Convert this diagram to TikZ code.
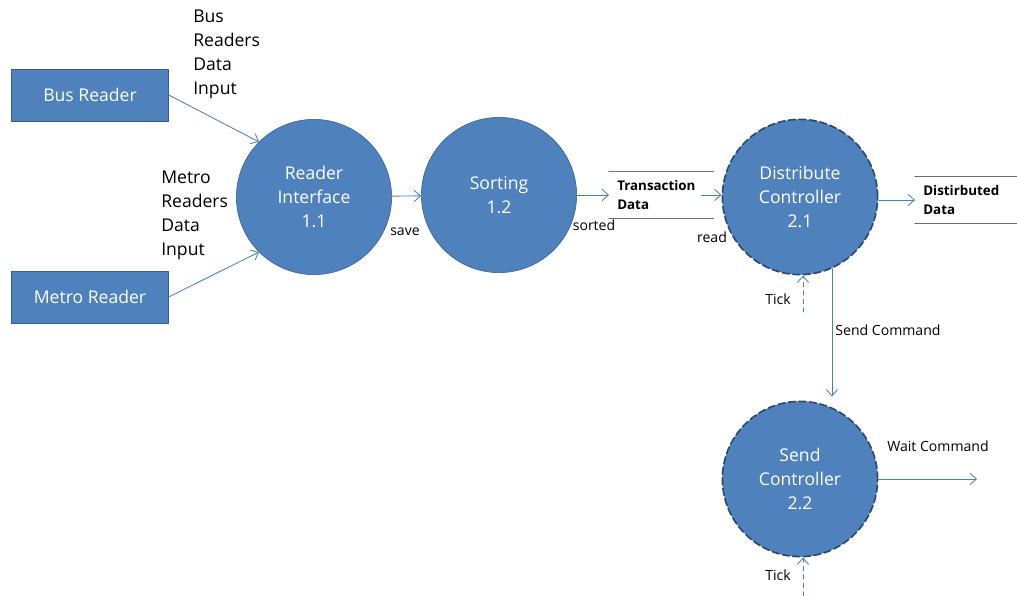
\documentclass[tikz,border=0pt]{standalone}
\usepackage{fontspec}
\setmainfont{Open Sans}
\usepackage{tikz}
\usetikzlibrary{calc,arrows.meta}
\definecolor{procblue}{HTML}{4F81BD}
\definecolor{procedge}{HTML}{385D8A}
\definecolor{ctrledge}{HTML}{2C4A70}
\definecolor{flowblue}{HTML}{4A7EBB}
\definecolor{storegray}{HTML}{6F6F6F}

\begin{document}
\begin{tikzpicture}[x=0.025cm,y=-0.025cm,>={Straight Barb[length=4.5pt,width=8pt]},line cap=round,line join=round,
                entity/.style={draw=procedge,fill=procblue,text=white,minimum width=3.92cm,
                    minimum height=1.3cm,font=\fontsize{12.5}{16}\selectfont},
                process/.style={circle,draw=procedge,fill=procblue,text=white,minimum size=3.88cm,
                    inner sep=0pt,align=center,font=\fontsize{12.5}{16.8}\selectfont},
                ctrl/.style={process,draw=ctrledge,line width=1.2pt,dash pattern=on 5pt off 2.5pt},
                store/.style={anchor=west,text width=2.2cm,inner xsep=0.2cm,minimum height=1.15cm,
                    align=left,font=\bfseries\fontsize{9.5}{14}\selectfont},
                storeline/.style={draw=storegray,line width=0.8pt},
                flow/.style={draw=flowblue,line width=0.6pt},
                small/.style={font=\fontsize{10}{12}\selectfont},
                big/.style={inner sep=0pt,anchor=west,align=left,font=\fontsize{12.5}{17}\selectfont}]
            \useasboundingbox (0,0) rectangle (1017,596);

            \node[entity] (bus) at (90,95) {Bus Reader};
            \node[entity] (metro) at (90,297) {Metro Reader};
            \node[process] (iface) at (314,197) {Reader\\Interface\\1.1};
            \node[process] (sort) at (499,195) {Sorting\\1.2};
            \node[ctrl] (dist) at (800,197) {Distribute\\Controller\\2.1};
            \node[ctrl] (send) at (800,479) {Send\\Controller\\2.2};

            \node[store] (trans) at (609,195) {Transaction\\Data};
            \node[store] (ddata) at (915,200) {Distirbuted\\Data};
            \draw[storeline] (trans.north west) -- (trans.north east);
            \draw[storeline] (trans.south west) -- (trans.south east);
            \draw[storeline] (ddata.north west) -- (ddata.north east);
            \draw[storeline] (ddata.south west) -- (ddata.south east);

            \coordinate (tick1) at (803,312);
            \coordinate (tick2) at (803,596);
            \coordinate (waitend) at (977,479);

            \draw[flow,->] (bus.east) -- (iface.135);
            \draw[flow,->] (metro.east) -- (iface.225);
            \draw[flow,->] (iface) -- (sort);
            \draw[flow,->] (sort.east) -- (trans.west);
            \draw[flow,->] ([xshift=-0.3cm]trans.east) -- (trans.east -| dist.west);
            \draw[flow,->] (ddata.west -| dist.east) -- (ddata.west);
            \draw[flow,->] (dist.-66) -- ([yshift=0.1cm]dist.-66 |- send.north);
            \draw[flow,->] (send.east) -- (waitend);
            \draw[flow,dashed,->] (tick1) -- (tick1 |- dist.south);
            \draw[flow,dashed,->] (tick2) -- (tick2 |- send.south);

            \node[big] (busin) at (193,54) {Bus\\Readers\\Data\\Input};
            \node[big] (metroin) at (161,215) {Metro\\Readers\\Data\\Input};
            \node[small] (save) at (405,232) {save};
            \node[small] (sorted) at (594,225) {sorted};
            \node[small] (read) at (712,237) {read};
            \node[small] (tick1l) at (778,299) {Tick};
            \node[small] (tick2l) at (778,575) {Tick};
            \node[small] (sendcmd) at (888,330) {Send Command};
            \node[small] (waitcmd) at (938,446) {Wait Command};
        \end{tikzpicture}
\end{document}
